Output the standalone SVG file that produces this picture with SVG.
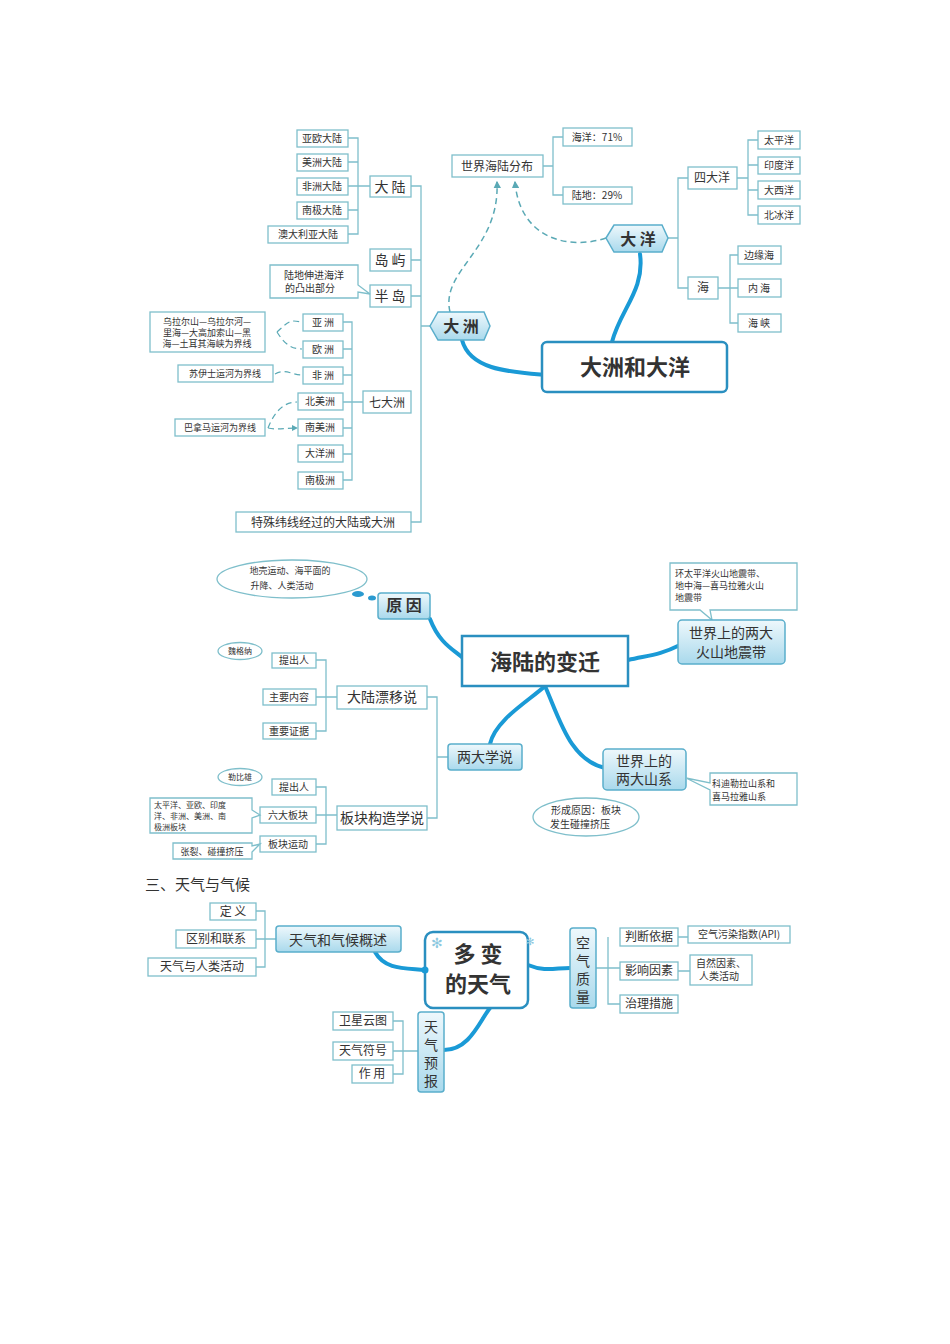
<svg xmlns="http://www.w3.org/2000/svg" width="950" height="1344" viewBox="0 0 950 1344">
<style>
.b{fill:#fff;stroke:#7fbfcb;stroke-width:1.3}
.m{fill:url(#g);stroke:#5aaecb;stroke-width:1.5}
.c{fill:#fff;stroke:#2a8fc0;stroke-width:2.5}
.l{fill:none;stroke:#7fbfcb;stroke-width:1.3}
.d{fill:none;stroke:#5aa9b5;stroke-width:1.5;stroke-dasharray:6 4}
.k{fill:none;stroke:#1a9ad6;stroke-width:4;stroke-linecap:round}
text{font-family:"Noto Sans CJK SC","Liberation Serif",serif;fill:#333;text-anchor:middle}
.s{font-size:10px}.t{font-size:12px}.u{font-size:14px}.h{font-size:16px;font-weight:bold}.x{font-size:22px;font-weight:bold}
.n{font-size:9px;text-anchor:start}
</style>
<defs>
<linearGradient id="g" x1="0" y1="0" x2="0" y2="1"><stop offset="0" stop-color="#eef8fc"/><stop offset="1" stop-color="#a9d9ec"/></linearGradient>
<marker id="a" viewBox="0 0 6 6" refX="5" refY="3" markerWidth="5" markerHeight="5" orient="auto"><path d="M0,0L6,3L0,6z" fill="#5aa9b5"/></marker>
</defs>
<g id="connectors">
<path class="l" d="M348,138H358V234H348M348,162H358M348,186H370M348,210H358M411,186H421V522H411M411,260H421M411,296H421M421,326H430M343,322H352V480H343M343,349H352M343,375H352M343,402H363M343,428H352M343,454H352"/>
<path class="l" d="M543,166H553V137H563M553,166V195H563M668,238H678V178H688M678,238V288H688M737,178H748V140H758M748,165H758M748,190H758M748,178V215H758M718,288H730V255H738M730,288H738M730,288V323H738"/>
<path class="d" d="M450,312C440,270 500,250 497,182" marker-end="url(#a)"/>
<path class="d" d="M606,238C570,250 520,240 515,182" marker-end="url(#a)"/>
<path class="k" d="M462,340C470,370 510,372 545,375"/>
<path class="k" d="M640,254C645,290 620,310 612,342"/>
<path class="d" style="stroke-width:1.2" d="M277,332C290,320 290,320 302,322M277,332C285,345 292,349 302,349M275,374C285,368 292,375 302,375M268,428C275,410 285,402 297,402M268,428C278,430 285,428 297,428" marker-end="url(#a)"/>
<path class="l" d="M316,660H326V731H316M316,697H337M427,697H437V818H427M437,757H448M316,787H326V844H316M316,815H337"/>
<path class="k" d="M430,619C440,645 455,650 465,660"/>
<path class="k" d="M628,660C650,655 660,655 680,645"/>
<path class="k" d="M490,744C495,720 530,700 545,686"/>
<path class="k" d="M545,686C560,720 570,760 605,768"/>
<path class="l" d="M256,911H265V967H256M256,939H276M678,937H688M678,971H690M608,937V1004H620M596,968H620M393,1021H403V1074H393M393,1051H418"/>
<path class="k" d="M375,952C385,970 405,968 425,970"/>
<path class="k" d="M528,965C545,972 555,968 570,968"/>
<path class="k" d="M444,1050C470,1050 480,1020 490,1008"/>
</g>
<g id="n-leaf1">
<rect class="b" x="297" y="130" width="51" height="17"/><text class="s" x="322" y="142">亚欧大陆</text>
<rect class="b" x="297" y="154" width="51" height="17"/><text class="s" x="322" y="166">美洲大陆</text>
<rect class="b" x="297" y="178" width="51" height="17"/><text class="s" x="322" y="190">非洲大陆</text>
<rect class="b" x="297" y="202" width="51" height="17"/><text class="s" x="322" y="214">南极大陆</text>
<rect class="b" x="268" y="226" width="80" height="17"/><text class="s" x="308" y="238">澳大利亚大陆</text>
</g>
<g id="n-dalu"><rect class="b" x="370" y="176" width="41" height="21"/><text class="u" x="390" y="192">大 陆</text></g>
<g id="n-daoyu"><rect class="b" x="370" y="249" width="41" height="22"/><text class="u" x="390" y="265">岛 屿</text></g>
<g id="n-bandao"><rect class="b" x="370" y="285" width="41" height="22"/><text class="u" x="390" y="301">半 岛</text>
<path class="b" d="M270,265H358V285L370,294L358,292V298H270Z"/><text class="s" x="314" y="279">陆地伸进海洋</text><text class="s" x="310" y="292">的凸出部分</text></g>
<g id="n-dazhou"><path class="m" d="M430,326L438,312H484L490,326L484,340H438Z"/><text class="h" x="461" y="332">大 洲</text></g>
<g id="n-qi"><rect class="b" x="363" y="391" width="48" height="22"/><text class="t" x="387" y="407">七大洲</text></g>
<g id="n-cont">
<rect class="b" x="303" y="314" width="40" height="17"/><text class="s" x="323" y="326">亚 洲</text>
<rect class="b" x="303" y="341" width="40" height="17"/><text class="s" x="323" y="353">欧 洲</text>
<rect class="b" x="303" y="367" width="40" height="17"/><text class="s" x="323" y="379">非 洲</text>
<rect class="b" x="298" y="393" width="45" height="17"/><text class="s" x="320" y="405">北美洲</text>
<rect class="b" x="298" y="419" width="45" height="17"/><text class="s" x="320" y="431">南美洲</text>
<rect class="b" x="298" y="445" width="45" height="17"/><text class="s" x="320" y="457">大洋洲</text>
<rect class="b" x="298" y="472" width="45" height="17"/><text class="s" x="320" y="484">南极洲</text>
</g>
<g id="n-call1">
<rect class="b" x="150" y="312" width="115" height="40"/><text class="s" x="207" y="325" style="font-size:9px">乌拉尔山—乌拉尔河—</text><text class="s" x="207" y="336" style="font-size:9px">里海—大高加索山—黑</text><text class="s" x="207" y="347" style="font-size:9px">海—土耳其海峡为界线</text>
<rect class="b" x="178" y="365" width="95" height="17"/><text class="s" x="225" y="377" style="font-size:9px">苏伊士运河为界线</text>
<rect class="b" x="175" y="419" width="90" height="17"/><text class="s" x="220" y="431" style="font-size:9px">巴拿马运河为界线</text>
</g>
<g id="n-tesu"><rect class="b" x="236" y="512" width="175" height="20"/><text class="t" x="323" y="527">特殊纬线经过的大陆或大洲</text></g>
<g id="n-shijie"><rect class="b" x="452" y="155" width="91" height="22"/><text class="t" x="497" y="171">世界海陆分布</text>
<rect class="b" x="563" y="128" width="69" height="18"/><text class="s" x="597" y="141">海洋：71%</text>
<rect class="b" x="563" y="187" width="69" height="17"/><text class="s" x="597" y="199">陆地：29%</text></g>
<g id="n-dayang"><path class="m" d="M606,238L614,225H662L668,238L662,252H614Z"/><text class="h" x="638" y="245">大 洋</text></g>
<g id="n-si"><rect class="b" x="688" y="167" width="49" height="22"/><text class="t" x="712" y="182">四大洋</text>
<rect class="b" x="758" y="131" width="42" height="18"/><text class="s" x="779" y="144">太平洋</text>
<rect class="b" x="758" y="157" width="42" height="17"/><text class="s" x="779" y="169">印度洋</text>
<rect class="b" x="758" y="181" width="42" height="18"/><text class="s" x="779" y="194">大西洋</text>
<rect class="b" x="758" y="206" width="42" height="18"/><text class="s" x="779" y="219">北冰洋</text></g>
<g id="n-hai"><rect class="b" x="688" y="277" width="30" height="22"/><text class="t" x="703" y="292">海</text>
<rect class="b" x="738" y="246" width="43" height="18"/><text class="s" x="759" y="259">边缘海</text>
<rect class="b" x="738" y="279" width="43" height="18"/><text class="s" x="759" y="292">内 海</text>
<rect class="b" x="738" y="314" width="43" height="18"/><text class="s" x="759" y="327">海 峡</text></g>
<g id="n-main1"><rect class="c" x="542" y="342" width="185" height="50" rx="5"/><text class="x" x="635" y="375">大洲和大洋</text></g>

<g id="n-yuanyin"><ellipse class="b" cx="292" cy="579" rx="75" ry="19"/><text class="s" x="290" y="574" style="font-size:9px">地壳运动、海平面的</text><text class="s" x="282" y="589" style="font-size:9px">升降、人类活动</text>
<ellipse cx="358" cy="594" rx="6" ry="3" fill="#2a9ad0"/><ellipse cx="372" cy="598" rx="4" ry="2.5" fill="#2a9ad0"/>
<rect class="m" x="378" y="593" width="52" height="26" rx="3"/><text class="h" x="404" y="611">原 因</text></g>
<g id="n-main2"><rect class="c" x="462" y="636" width="166" height="50"/><text class="x" x="545" y="670">海陆的变迁</text></g>
<g id="n-volc"><path class="b" d="M670,563H797V610H710L712,620L700,610H670Z"/><text class="n" x="675" y="577">环太平洋火山地震带、</text><text class="n" x="675" y="589">地中海—喜马拉雅火山</text><text class="n" x="675" y="601">地震带</text>
<rect class="m" x="678" y="620" width="107" height="44" rx="4"/><text class="u" x="731" y="638">世界上的两大</text><text class="u" x="731" y="657">火山地震带</text></g>
<g id="n-xueshuo"><rect class="m" x="448" y="744" width="74" height="26" rx="3"/><text class="u" x="485" y="762">两大学说</text></g>
<g id="n-mount"><rect class="m" x="603" y="749" width="83" height="41" rx="4"/><text class="u" x="644" y="766">世界上的</text><text class="u" x="644" y="784">两大山系</text>
<path class="b" d="M686,778L710,783V773H797V805H710V790Z"/><text class="n" x="712" y="787">科迪勒拉山系和</text><text class="n" x="712" y="800">喜马拉雅山系</text>
<ellipse class="b" cx="586" cy="817" rx="53" ry="19"/><text class="s" x="586" y="814">形成原因：板块</text><text class="s" x="580" y="828">发生碰撞挤压</text></g>
<g id="n-drift"><rect class="b" x="337" y="686" width="90" height="23"/><text class="u" x="382" y="702">大陆漂移说</text>
<rect class="b" x="272" y="653" width="44" height="15"/><text class="s" x="294" y="664">提出人</text>
<rect class="b" x="263" y="689" width="53" height="16"/><text class="s" x="289" y="701">主要内容</text>
<rect class="b" x="263" y="723" width="53" height="16"/><text class="s" x="289" y="735">重要证据</text>
<ellipse class="b" cx="240" cy="651" rx="22" ry="8.5"/><text class="s" x="240" y="654" style="font-size:8px">魏格纳</text></g>
<g id="n-plate"><rect class="b" x="337" y="806" width="90" height="24"/><text class="u" x="382" y="823">板块构造学说</text>
<rect class="b" x="272" y="779" width="44" height="16"/><text class="s" x="294" y="791">提出人</text>
<rect class="b" x="260" y="807" width="56" height="16"/><text class="s" x="288" y="819">六大板块</text>
<rect class="b" x="260" y="836" width="56" height="16"/><text class="s" x="288" y="848">板块运动</text>
<ellipse class="b" cx="240" cy="777" rx="22" ry="8.5"/><text class="s" x="240" y="780" style="font-size:8px">勒比雄</text>
<path class="b" d="M150,798H252V810L260,815L252,818V833H150Z"/><text class="n" x="154" y="808" style="font-size:8px">太平洋、亚欧、印度</text><text class="n" x="154" y="819" style="font-size:8px">洋、非洲、美洲、南</text><text class="n" x="154" y="830" style="font-size:8px">极洲板块</text>
<path class="b" d="M173,843H252V846L260,844L252,852V859H173Z"/><text class="s" x="212" y="855" style="font-size:9px">张裂、碰撞挤压</text></g>

<text x="145" y="890" style="font-size:15px;text-anchor:start;font-family:'Noto Sans CJK SC',sans-serif">三、天气与气候</text>
<g id="n-gaishu"><rect class="b" x="210" y="903" width="46" height="17"/><text class="t" x="233" y="916">定 义</text>
<rect class="b" x="176" y="930" width="80" height="18"/><text class="t" x="216" y="943">区别和联系</text>
<rect class="b" x="148" y="958" width="108" height="18"/><text class="t" x="202" y="971">天气与人类活动</text>
<rect class="m" x="276" y="926" width="125" height="26" rx="3"/><text class="u" x="338" y="945" style="font-family:'Noto Sans CJK SC',sans-serif">天气和气候概述</text></g>
<g id="n-main3"><rect class="c" x="425" y="932" width="103" height="76" rx="8"/><text class="x" x="478" y="962">多 变</text><text class="x" x="478" y="992">的天气</text>
<circle cx="425" cy="970" r="3.5" fill="#1a9ad6"/><text x="437" y="948" style="font-size:14px;fill:#8cc8e0">✻</text><text x="530" y="945" style="font-size:10px;fill:#8cc8e0">✻</text></g>
<g id="n-air"><rect class="m" x="570" y="928" width="26" height="80" rx="3"/><text class="u" x="583" y="948" style="font-family:'Noto Sans CJK SC',sans-serif">空</text><text class="u" x="583" y="966" style="font-family:'Noto Sans CJK SC',sans-serif">气</text><text class="u" x="583" y="984" style="font-family:'Noto Sans CJK SC',sans-serif">质</text><text class="u" x="583" y="1002" style="font-family:'Noto Sans CJK SC',sans-serif">量</text>
<rect class="b" x="620" y="928" width="58" height="18"/><text class="t" x="649" y="941">判断依据</text>
<rect class="b" x="620" y="962" width="58" height="18"/><text class="t" x="649" y="975">影响因素</text>
<rect class="b" x="620" y="995" width="58" height="18"/><text class="t" x="649" y="1008">治理措施</text>
<rect class="b" x="688" y="926" width="102" height="17"/><text class="s" x="739" y="938">空气污染指数(API)</text>
<rect class="b" x="690" y="955" width="62" height="30"/><text class="s" x="721" y="967">自然因素、</text><text class="s" x="719" y="980">人类活动</text></g>
<g id="n-forecast"><rect class="m" x="418" y="1012" width="26" height="80" rx="3"/><text class="u" x="431" y="1032" style="font-family:'Noto Sans CJK SC',sans-serif">天</text><text class="u" x="431" y="1050" style="font-family:'Noto Sans CJK SC',sans-serif">气</text><text class="u" x="431" y="1068" style="font-family:'Noto Sans CJK SC',sans-serif">预</text><text class="u" x="431" y="1086" style="font-family:'Noto Sans CJK SC',sans-serif">报</text>
<rect class="b" x="333" y="1012" width="60" height="18"/><text class="t" x="363" y="1025">卫星云图</text>
<rect class="b" x="333" y="1042" width="60" height="18"/><text class="t" x="363" y="1055">天气符号</text>
<rect class="b" x="352" y="1065" width="41" height="18"/><text class="t" x="372" y="1078">作 用</text></g>
</svg>
